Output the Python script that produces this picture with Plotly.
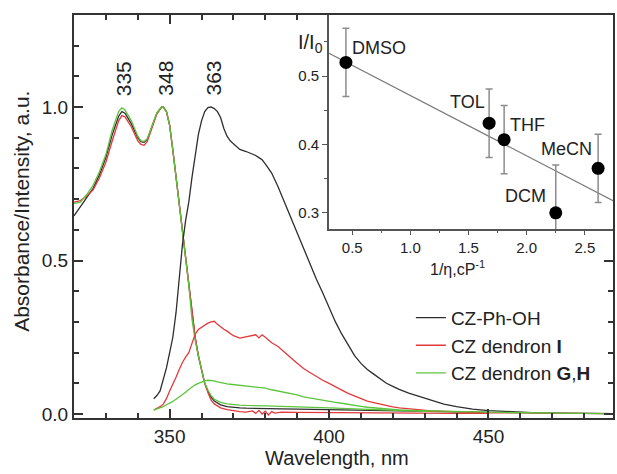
import numpy as np
import plotly.graph_objects as go

# ---------------- data ----------------
# Absorbance spectra (wavelength nm, normalised)
abs_wl = [320, 322, 324, 326, 328, 330, 332, 334, 335, 336, 338, 340, 341, 342, 343, 344, 346, 347.5,
          348, 349, 350, 351, 352, 353, 354, 355, 356, 357, 358, 359, 360, 361, 362, 363, 364, 366,
          368, 370, 372, 374, 376, 377, 378, 379, 380, 381, 382, 383, 385, 390, 400, 410, 420, 430, 440, 450]
abs_czphoh = [0.645, 0.675, 0.705, 0.735, 0.78, 0.835, 0.91, 0.97, 0.985, 0.98, 0.945, 0.90, 0.887, 0.885,
              0.895, 0.925, 0.98, 1.0, 1.0, 0.985, 0.94, 0.86, 0.77, 0.68, 0.60, 0.52, 0.42, 0.32, 0.25,
              0.19, 0.14, 0.10, 0.075, 0.055, 0.042, 0.030, 0.024, 0.021, 0.020, 0.019, 0.019, 0.018,
              0.018, 0.018, 0.018, 0.017, 0.017, 0.017, 0.017, 0.016, 0.014, 0.012, 0.010, 0.008, 0.006, 0.005]
abs_dendI = [0.69, 0.695, 0.71, 0.73, 0.77, 0.82, 0.89, 0.955, 0.972, 0.968, 0.935, 0.89, 0.878, 0.875,
             0.888, 0.92, 0.978, 1.0, 1.0, 0.985, 0.94, 0.86, 0.77, 0.68, 0.60, 0.52, 0.42, 0.32, 0.25,
             0.19, 0.14, 0.10, 0.07, 0.045, 0.033, 0.020, 0.014, 0.010, 0.008, 0.006, 0.010, 0.002,
             0.012, 0.000, 0.009, -0.003, 0.008, 0.003, 0.006, 0.005, 0.004, 0.004, 0.003, 0.003, 0.002, 0.002]
abs_dendGH = [0.685, 0.69, 0.715, 0.745, 0.79, 0.845, 0.925, 0.985, 0.997, 0.99, 0.955, 0.905, 0.89, 0.888,
              0.897, 0.927, 0.982, 1.0, 1.0, 0.985, 0.94, 0.86, 0.77, 0.68, 0.60, 0.52, 0.42, 0.31, 0.24,
              0.19, 0.14, 0.10, 0.078, 0.060, 0.048, 0.038, 0.033, 0.030, 0.029, 0.028, 0.028, 0.027,
              0.027, 0.027, 0.027, 0.026, 0.026, 0.026, 0.025, 0.024, 0.020, 0.016, 0.012, 0.009, 0.007, 0.005]

# Emission spectra
em_wl = [345, 346, 347, 348, 349, 350, 351, 352, 353, 354, 355, 356, 357, 358, 359, 360, 361, 362, 363,
         364, 365, 366, 367, 368, 369, 370, 372, 374, 376, 377, 378, 379, 380, 382, 384, 386, 388, 390,
         392, 394, 396, 398, 400, 402, 404, 406, 408, 410, 412, 414, 416, 418, 420, 422, 425, 428, 432,
         436, 440, 445, 450, 455, 460, 465, 470, 480, 489]
em_czphoh = [0.05, 0.06, 0.075, 0.11, 0.15, 0.20, 0.25, 0.33, 0.44, 0.55, 0.63, 0.69, 0.77, 0.84, 0.91,
             0.955, 0.985, 0.998, 1.0, 0.995, 0.985, 0.965, 0.93, 0.905, 0.89, 0.88, 0.862, 0.855, 0.847,
             0.842, 0.835, 0.828, 0.815, 0.785, 0.74, 0.69, 0.64, 0.585, 0.535, 0.485, 0.44, 0.395, 0.345,
             0.30, 0.26, 0.225, 0.19, 0.165, 0.145, 0.13, 0.115, 0.10, 0.09, 0.08, 0.068, 0.058, 0.045,
             0.032, 0.024, 0.016, 0.011, 0.008, 0.006, 0.004, 0.003, 0.002, 0.001]
em_dendI = [0.013, 0.018, 0.024, 0.032, 0.05, 0.075, 0.095, 0.12, 0.145, 0.168, 0.185, 0.20, 0.23, 0.26,
            0.275, 0.283, 0.29, 0.296, 0.30, 0.302, 0.292, 0.283, 0.276, 0.27, 0.263, 0.255, 0.247, 0.252,
            0.255, 0.258, 0.248, 0.258, 0.25, 0.232, 0.22, 0.20, 0.183, 0.165, 0.148, 0.135, 0.122, 0.11,
            0.10, 0.09, 0.078, 0.067, 0.058, 0.05, 0.042, 0.037, 0.032, 0.026, 0.023, 0.020, 0.018, 0.014,
            0.010, 0.008, 0.006, 0.005, 0.004, 0.0035, 0.003, 0.0025, 0.002, 0.0015, 0.001]
em_dendGH = [0.013, 0.016, 0.02, 0.024, 0.03, 0.035, 0.041, 0.048, 0.055, 0.063, 0.071, 0.08, 0.088, 0.095,
             0.10, 0.105, 0.108, 0.11, 0.11, 0.108, 0.105, 0.102, 0.10, 0.098, 0.097, 0.096, 0.094, 0.092,
             0.09, 0.089, 0.088, 0.086, 0.084, 0.079, 0.075, 0.07, 0.066, 0.062, 0.056, 0.052, 0.048,
             0.044, 0.041, 0.038, 0.035, 0.031, 0.028, 0.025, 0.022, 0.020, 0.018, 0.016, 0.015, 0.013,
             0.012, 0.011, 0.010, 0.009, 0.008, 0.007, 0.006, 0.005, 0.004, 0.003, 0.003, 0.002, 0.001]

series_names = ["CZ-Ph-OH", "CZ dendron <b>I</b>", "CZ dendron <b>G</b>,<b>H</b>"]
peak_labels = [335, 348, 363]
peak_label_level = 1.093

# Inset: I/I0 vs 1/viscosity
solvents = ["DMSO", "TOL", "THF", "DCM", "MeCN"]
inv_visc = [0.446, 1.677, 1.806, 2.25, 2.614]
i_ratio = [0.520, 0.431, 0.407, 0.300, 0.365]
i_err = [0.050, 0.050, 0.050, 0.070, 0.050]

# ---------------- styles / layout ----------------
colors = ["#2e2e2e", "#e3393c", "#5cc43c"]
label_offsets = [(33, -14), (-22, -21), (23, -15), (-30, -17), (-32, -19)]
FONT = "Liberation Sans, Arial, sans-serif"
axis_col = "#333333"

fig = go.Figure()

abs_series = [abs_czphoh, abs_dendI, abs_dendGH]
em_series = [em_czphoh, em_dendI, em_dendGH]
for i in range(3):
    fig.add_trace(go.Scatter(x=abs_wl, y=abs_series[i], mode="lines", name=series_names[i],
                             line=dict(color=colors[i], width=1.3), legendgroup=str(i),
                             showlegend=True))
for i in range(3):
    fig.add_trace(go.Scatter(x=em_wl, y=em_series[i], mode="lines", name=series_names[i],
                             line=dict(color=colors[i], width=1.3), legendgroup=str(i),
                             showlegend=False))

# Inset linear fit
ix_range = [0.300, 2.742]
coef = np.polyfit(inv_visc, i_ratio, 1)
fit_x = np.array(ix_range)
fig.add_trace(go.Scatter(x=fit_x, y=np.polyval(coef, fit_x), mode="lines", xaxis="x2", yaxis="y2",
                         line=dict(color="#7a7a7a", width=1.3), showlegend=False, hoverinfo="skip"))
fig.add_trace(go.Scatter(x=inv_visc, y=i_ratio, mode="markers", xaxis="x2", yaxis="y2",
                         marker=dict(color="black", size=13),
                         error_y=dict(type="data", array=i_err, color="#8c8c8c", thickness=1.5, width=3.5),
                         showlegend=False))

annotations = []
for p in peak_labels:
    annotations.append(dict(x=p, y=peak_label_level, xref="x", yref="y", text=str(p), showarrow=False,
                            textangle=-90, xshift=2, xanchor="center", yanchor="middle",
                            font=dict(size=21, color="#222", family=FONT)))
for s, xv, yv, (dx, dy) in zip(solvents, inv_visc, i_ratio, label_offsets):
    annotations.append(dict(x=xv, y=yv, xref="x2", yref="y2", text=s, showarrow=False,
                            xshift=dx, yshift=-dy, xanchor="center", yanchor="middle",
                            font=dict(size=18, color="#222", family=FONT)))

annotations += [
    dict(x=-0.098, y=0.512, xref="paper", yref="paper", text="Absorbance/Intensity, a.u.",
         textangle=-90, showarrow=False, xanchor="center", yanchor="middle",
         font=dict(size=21, color="#222", family=FONT)),
    dict(x=0.488, y=-0.0993, xref="paper", yref="paper", text="Wavelength, nm",
         showarrow=False, xanchor="center", yanchor="middle",
         font=dict(size=20, color="#222", family=FONT)),
    dict(x=0.412, y=0.930, xref="paper", yref="paper", xanchor="left", yanchor="middle",
         text="I/I<sub>0</sub>", showarrow=False, font=dict(size=20, color="#222", family=FONT)),
    dict(x=0.7116, y=0.372, xref="paper", yref="paper", text="1/η,cP<sup>-1</sup>",
         xanchor="center", yanchor="middle",
         showarrow=False, font=dict(size=16, color="#222", family=FONT)),
]

fig.update_layout(
    width=617, height=474,
    margin=dict(l=74, r=2, t=15, b=56),
    paper_bgcolor="white", plot_bgcolor="white",
    font=dict(family=FONT, color="#222"),
    showlegend=True,
    legend=dict(x=0.625, y=0.296, xanchor="left", yanchor="top", bgcolor="rgba(0,0,0,0)",
                font=dict(size=19, family=FONT, color="#222"), tracegroupgap=0),
    xaxis=dict(range=[320, 489.06], tick0=300, dtick=50, ticks="inside", ticklen=9, tickwidth=2,
               tickcolor=axis_col, showline=True, linewidth=2, linecolor=axis_col, mirror="ticks",
               showgrid=False, zeroline=False, tickfont=dict(size=19, color="#222"),
               minor=dict(dtick=10, tick0=300, ticks="inside", ticklen=5, tickwidth=1.5,
                          tickcolor=axis_col, showgrid=False)),
    yaxis=dict(range=[-0.013, 1.2997], tick0=0, dtick=0.5, tickformat=".1f", ticks="inside",
               ticklen=9, tickwidth=2, tickcolor=axis_col, showline=True, linewidth=2,
               linecolor=axis_col, mirror="ticks", showgrid=False, zeroline=False,
               tickfont=dict(size=19, color="#222"),
               minor=dict(dtick=0.1, tick0=0, ticks="inside", ticklen=5, tickwidth=1.5,
                          tickcolor=axis_col, showgrid=False)),
    xaxis2=dict(domain=[0.473, 1], anchor="y2", range=ix_range, tick0=0, dtick=0.5, tickformat=".1f",
                ticks="outside", ticklen=4, tickwidth=1.2, tickcolor="#555", showline=True,
                linewidth=1.5, linecolor="#555", showgrid=False, zeroline=False,
                tickfont=dict(size=15, color="#222"),
                minor=dict(dtick=0.25, tick0=0, ticks="outside", ticklen=2, tickwidth=1,
                           tickcolor="#555", showgrid=False)),
    yaxis2=dict(domain=[0.468, 1], anchor="x2", range=[0.2757, 0.5893], tick0=0, dtick=0.1,
                tickformat=".1f", ticks="outside", ticklen=5, tickwidth=1.2, tickcolor="#555",
                showline=True, linewidth=1.5, linecolor="#555", showgrid=False, zeroline=False,
                tickfont=dict(size=15, color="#222"),
                minor=dict(dtick=0.05, tick0=0, ticks="outside", ticklen=3, tickwidth=1,
                           tickcolor="#555", showgrid=False)),
    annotations=annotations,
)

fig.write_html("out.html")
